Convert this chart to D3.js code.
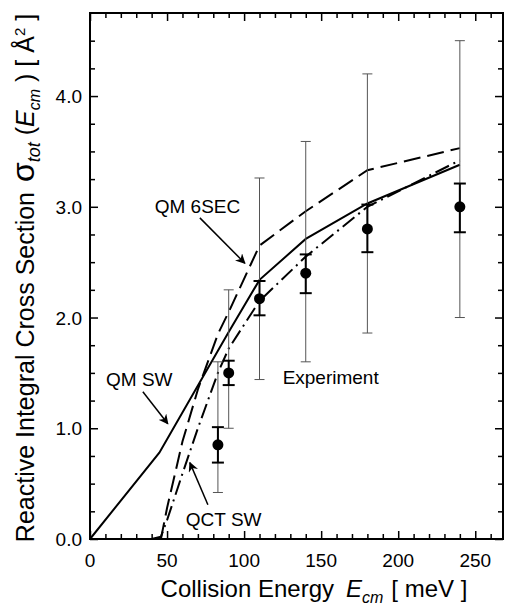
<!DOCTYPE html>
<meta charset="utf-8" />
<style>
  body {
    margin: 0;
    background: #fff;
    font-family: "Liberation Sans", Arial, sans-serif;
  }

  .frame {
    fill: none;
    stroke: #000;
    stroke-width: 2;
  }

  .tick line {
    stroke: #000;
    stroke-width: 1.5;
  }

  .curve {
    fill: none;
    stroke: #000;
    stroke-width: 2;
  }

  .label {
    font-size: 19px;
    fill: #000;
  }
</style>
<body>
  <script src="https://d3js.org/d3.v7.min.js"></script>

  <script>
    // experiment (filled circles with two sets of error bars)
    var expEnergy = [83, 90, 110, 140, 180, 240];
    var expSigma = [0.85, 1.5, 2.17, 2.4, 2.8, 3.0];
    var innerLo = [0.69, 1.39, 2.02, 2.22, 2.59, 2.77];
    var innerHi = [1.01, 1.61, 2.33, 2.57, 3.02, 3.21];
    var outerLo = [0.42, 1.0, 1.44, 1.6, 1.86, 2.0];
    var outerHi = [1.6, 2.25, 3.26, 3.59, 4.2, 4.5];

    // theory curves
    var qmSwEnergy = [0, 45, 83, 90, 110, 140, 180, 240];
    var qmSwSigma = [0, 0.78, 1.7, 1.87, 2.34, 2.71, 3.03, 3.38];
    var qm6secEnergy = [46, 50, 60, 70, 83, 90, 110, 140, 180, 240];
    var qm6secSigma = [0, 0.28, 0.88, 1.35, 1.85, 2.05, 2.65, 2.96, 3.33, 3.53];
    var qctEnergy = [40, 46, 50, 60, 70, 83, 90, 110, 140, 180, 240];
    var qctSigma = [0, 0.02, 0.17, 0.59, 1.0, 1.5, 1.72, 2.15, 2.55, 3.0, 3.42];

    var xTickLabels = [0, 50, 100, 150, 200, 250];
    var yTickLabels = [0, 1, 2, 3, 4];

    // annotations: text [x, y] and arrow tail/head, in data units
    var notes = [
      { text: "QM 6SEC", at: [42, 2.94], from: [71.3, 2.9], to: [100.5, 2.49] },
      { text: "QM SW", at: [10.4, 1.38], from: [34.3, 1.33], to: [50.5, 1.04] },
      { text: "Experiment", at: [125, 1.4] },
      { text: "QCT SW", at: [62.2, 0.12], from: [76.5, 0.31], to: [64.8, 0.69] }
    ];

    var W = 505, H = 607;
    var x = d3.scaleLinear().domain([0, 268]).range([90, 503]);
    var y = d3.scaleLinear().domain([0, 4.75]).range([539, 13]);

    var svg = d3
      .select("body")
      .append("svg")
      .attr("width", W)
      .attr("height", H);

    svg.append("defs")
      .append("marker")
      .attr("id", "arrow")
      .attr("viewBox", "0 0 10 10")
      .attr("refX", 9)
      .attr("refY", 5)
      .attr("markerWidth", 10)
      .attr("markerHeight", 10)
      .attr("markerUnits", "userSpaceOnUse")
      .attr("orient", "auto")
      .append("path")
      .attr("d", "M0,0 L10,5 L0,10 L3,5 Z")
      .attr("fill", "#000");

    // ticks on all four sides, pointing inward
    var xMinor = d3.range(0, 268, 10);
    var yMinor = d3.range(0, 4.75, 0.25);

    function tickLen(v, step) {
      return Math.abs(v / step - Math.round(v / step)) < 1e-6 ? 8 : 5;
    }

    svg.append("g")
      .attr("transform", "translate(0," + y(0) + ")")
      .call(d3.axisBottom(x).tickValues(xMinor).tickSize(0).tickFormat(""))
      .call(function (g) {
        g.select(".domain").remove();
        g.selectAll(".tick line").attr("y2", function (d) { return -tickLen(d, 50); });
      });
    svg.append("g")
      .attr("transform", "translate(0," + y(4.75) + ")")
      .call(d3.axisTop(x).tickValues(xMinor).tickSize(0).tickFormat(""))
      .call(function (g) {
        g.select(".domain").remove();
        g.selectAll(".tick line").attr("y2", function (d) { return tickLen(d, 50); });
      });
    svg.append("g")
      .attr("transform", "translate(" + x(0) + ",0)")
      .call(d3.axisLeft(y).tickValues(yMinor).tickSize(0).tickFormat(""))
      .call(function (g) {
        g.select(".domain").remove();
        g.selectAll(".tick line").attr("x2", function (d) { return tickLen(d, 1); });
      });
    svg.append("g")
      .attr("transform", "translate(" + x(268) + ",0)")
      .call(d3.axisRight(y).tickValues(yMinor).tickSize(0).tickFormat(""))
      .call(function (g) {
        g.select(".domain").remove();
        g.selectAll(".tick line").attr("x2", function (d) { return -tickLen(d, 1); });
      });

    // tick labels
    svg.append("g")
      .selectAll("text")
      .data(xTickLabels)
      .enter()
      .append("text")
      .attr("x", function (d) { return x(d); })
      .attr("y", y(0) + 28)
      .attr("text-anchor", "middle")
      .style("font-size", "19px")
      .text(function (d) { return d; });

    svg.append("g")
      .selectAll("text")
      .data(yTickLabels)
      .enter()
      .append("text")
      .attr("x", x(0) - 8)
      .attr("y", function (d) { return y(d) + 7; })
      .attr("text-anchor", "end")
      .style("font-size", "19px")
      .text(function (d) { return d.toFixed(1); });

    svg.append("rect")
      .attr("class", "frame")
      .attr("x", x(0))
      .attr("y", y(4.75))
      .attr("width", x(268) - x(0))
      .attr("height", y(0) - y(4.75));

    // curves
    var line = d3.line()
      .x(function (d) { return x(d[0]); })
      .y(function (d) { return y(d[1]); });

    function pairs(a, b) {
      return a.map(function (v, i) { return [v, b[i]]; });
    }

    svg.append("path")
      .attr("class", "curve")
      .attr("d", line(pairs(qmSwEnergy, qmSwSigma)));
    svg.append("path")
      .attr("class", "curve")
      .attr("stroke-dasharray", "17,7")
      .attr("d", line(pairs(qm6secEnergy, qm6secSigma)));
    svg.append("path")
      .attr("class", "curve")
      .attr("stroke-dasharray", "15,5,2,5")
      .attr("d", line(pairs(qctEnergy, qctSigma)));

    // experiment
    var exp = expEnergy.map(function (e, i) {
      return { e: e, s: expSigma[i], lo: innerLo[i], hi: innerHi[i], olo: outerLo[i], ohi: outerHi[i] };
    });

    var eg = svg.append("g");
    exp.forEach(function (d) {
      var cx = x(d.e);
      eg.append("line")
        .attr("x1", cx).attr("x2", cx)
        .attr("y1", y(d.olo)).attr("y2", y(d.ohi))
        .attr("stroke", "#555").attr("stroke-width", 1);
      [d.olo, d.ohi].forEach(function (v) {
        eg.append("line")
          .attr("x1", cx - 5).attr("x2", cx + 5)
          .attr("y1", y(v)).attr("y2", y(v))
          .attr("stroke", "#555").attr("stroke-width", 1);
      });
      eg.append("line")
        .attr("x1", cx).attr("x2", cx)
        .attr("y1", y(d.lo)).attr("y2", y(d.hi))
        .attr("stroke", "#000").attr("stroke-width", 2);
      [d.lo, d.hi].forEach(function (v) {
        eg.append("line")
          .attr("x1", cx - 6).attr("x2", cx + 6)
          .attr("y1", y(v)).attr("y2", y(v))
          .attr("stroke", "#000").attr("stroke-width", 2);
      });
      eg.append("circle")
        .attr("cx", cx)
        .attr("cy", y(d.s))
        .attr("r", 5.5)
        .attr("fill", "#000");
    });

    // annotations
    notes.forEach(function (n) {
      svg.append("text")
        .attr("class", "label")
        .attr("x", x(n.at[0]))
        .attr("y", y(n.at[1]))
        .text(n.text);
      if (n.from) {
        svg.append("line")
          .attr("x1", x(n.from[0])).attr("y1", y(n.from[1]))
          .attr("x2", x(n.to[0])).attr("y2", y(n.to[1]))
          .attr("stroke", "#000")
          .attr("stroke-width", 1.5)
          .attr("marker-end", "url(#arrow)");
      }
    });

    // axis titles
    var xt = svg.append("text")
      .attr("x", 314)
      .attr("y", 597)
      .attr("text-anchor", "middle")
      .style("font-size", "24px");
    xt.append("tspan").text("Collision Energy");
    xt.append("tspan").attr("dx", 12).style("font-style", "italic").text("E");
    xt.append("tspan").attr("dy", 6).style("font-style", "italic").style("font-size", "16px").text("cm");
    xt.append("tspan").attr("dy", -6).attr("dx", 8).text("[ meV ]");

    var yt = svg.append("text")
      .attr("transform", "translate(34,278) rotate(-90)")
      .attr("text-anchor", "middle")
      .style("font-size", "25px");
    yt.append("tspan").text("Reactive Integral Cross Section");
    yt.append("tspan").attr("dx", 10).style("font-size", "32px").text("σ");
    yt.append("tspan").attr("dy", 6).style("font-style", "italic").style("font-size", "18px").text("tot");
    yt.append("tspan").attr("dy", -6).text(" (");
    yt.append("tspan").style("font-style", "italic").text("E");
    yt.append("tspan").attr("dy", 6).style("font-style", "italic").style("font-size", "16px").text("cm");
    yt.append("tspan").attr("dy", -6).text(" )  [ Å");
    yt.append("tspan").attr("dy", -9).style("font-size", "15px").text("2");
    yt.append("tspan").attr("dy", 9).text(" ]");
  </script>
</body>
